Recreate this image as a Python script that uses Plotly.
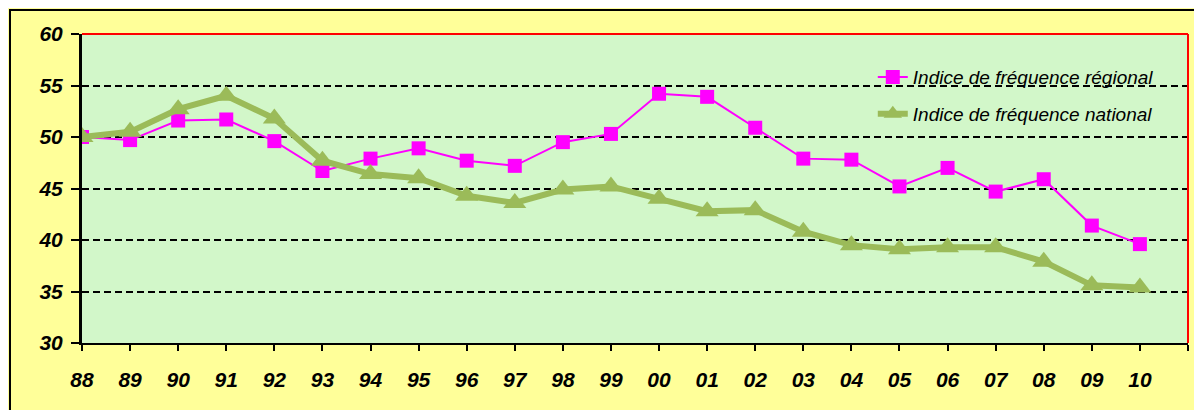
import plotly.graph_objects as go

years = ["88", "89", "90", "91", "92", "93", "94", "95", "96", "97", "98", "99",
         "00", "01", "02", "03", "04", "05", "06", "07", "08", "09", "10"]
regional = [50.0, 49.7, 51.6, 51.7, 49.6, 46.7, 47.9, 48.9, 47.7, 47.2, 49.5, 50.3,
            54.2, 53.9, 50.9, 47.9, 47.8, 45.2, 47.0, 44.7, 45.9, 41.4, 39.6]
national = [50.0, 50.5, 52.7, 54.0, 51.8, 47.7, 46.4, 46.0, 44.3, 43.6, 44.9, 45.2,
            44.0, 42.8, 42.9, 40.8, 39.5, 39.1, 39.3, 39.3, 37.9, 35.6, 35.4]
y_ticks = [30, 35, 40, 45, 50, 55, 60]

name_reg = "Indice de fréquence régional"
name_nat = "Indice de fréquence national"

xpos = list(range(len(years)))
FONT = "Liberation Sans, Arial, sans-serif"

fig = go.Figure()
fig.add_trace(go.Scatter(
    x=xpos, y=regional, name=name_reg, mode="lines+markers",
    line=dict(color="#FF00FF", width=2),
    marker=dict(symbol="square", size=14, color="#FF00FF"),
    legendgroup="a",
))
fig.add_trace(go.Scatter(
    x=xpos, y=national, name=name_nat, mode="lines+markers",
    line=dict(color="#9BBB59", width=6),
    marker=dict(symbol="triangle-up", size=20, color="#9BBB59"),
    legendgroup="b",
))

tickfont = dict(family=FONT, size=21, color="black", weight="bold", style="italic")

W, H = 1194, 402
fig.update_layout(
    width=W, height=H,
    margin=dict(l=74, r=14, t=26, b=67),
    paper_bgcolor="#FFFF99",
    plot_bgcolor="#D2F7C9",
    showlegend=True,
    legend=dict(
        x=0.715, y=0.922, xanchor="left", yanchor="top",
        bgcolor="rgba(0,0,0,0)",
        font=dict(family=FONT, size=19, color="black", style="italic"),
        tracegroupgap=9,
    ),
    xaxis=dict(
        range=[0, len(years)],
        tickmode="array",
        tickvals=xpos + [len(years)],
        ticktext=years + [""],
        ticks="outside", ticklen=6, tickwidth=2, tickcolor="black",
        showline=True, linecolor="black", linewidth=2,
        showgrid=False, zeroline=False,
        tickfont=tickfont,
        ticklabelstandoff=11,
    ),
    xaxis2=dict(
        overlaying="x", anchor="y", side="bottom", matches="x",
        range=[0, len(years)],
        tickmode="array",
        tickvals=xpos + [len(years)],
        ticks="inside", ticklen=5, tickwidth=2, tickcolor="black",
        showticklabels=False, showline=False, showgrid=False, zeroline=False,
    ),
    yaxis=dict(
        range=[30, 60],
        tickmode="array", tickvals=y_ticks,
        ticks="outside", ticklen=8, tickwidth=2, tickcolor="black",
        showline=True, linecolor="black", linewidth=3,
        showgrid=True, gridcolor="black", griddash="7px,4px", gridwidth=1.5,
        zeroline=False,
        tickfont=tickfont,
        ticklabelstandoff=4,
    ),
    shapes=[
        dict(type="rect", xref="paper", yref="paper",
             x0=-72 / 1106, x1=1.05, y0=-0.3, y1=1 + 24 / 309,
             fillcolor="rgba(0,0,0,0)", line=dict(color="black", width=2),
             layer="below"),
        dict(type="line", xref="x domain", yref="y domain",
             x0=0, x1=1, y0=1, y1=1, line=dict(color="red", width=2)),
        dict(type="line", xref="x domain", yref="y domain",
             x0=1, x1=1, y0=0, y1=1, line=dict(color="red", width=2)),
    ],
)

fig.write_html("out.html")
